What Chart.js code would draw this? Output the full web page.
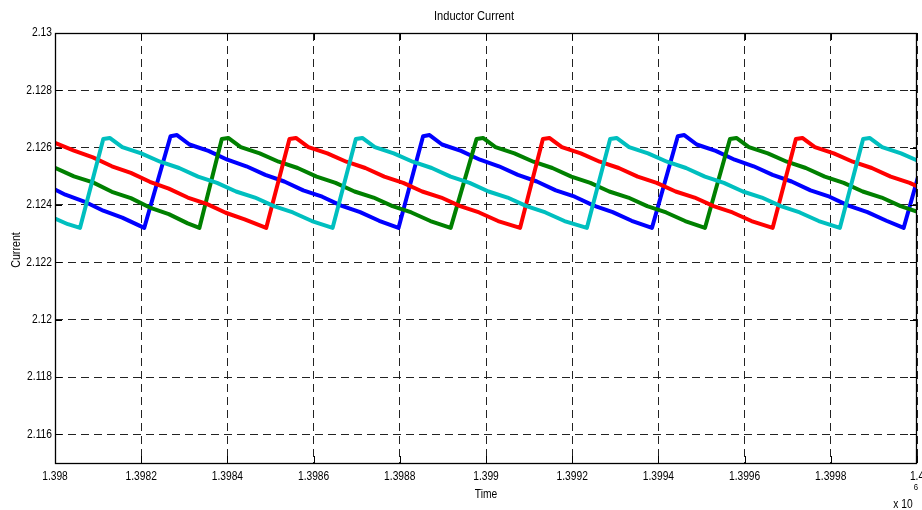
<!DOCTYPE html>
<html>
<head>
<meta charset="utf-8">
<script src="https://cdn.jsdelivr.net/npm/chart.js@4"></script>
<style>
html,body{margin:0;padding:0;background:#fff;}
#wrap{position:relative;width:922px;height:510px;}
</style>
</head>
<body>
<div id="wrap"><canvas id="c" width="922" height="510"></canvas></div>
<script>
// x values are Time (axis shows them scaled by 10^6), y values are Current
const xTicks = [1398000,1398200,1398400,1398600,1398800,1399000,1399200,1399400,1399600,1399800,1400000];
const yTicks = [2.116,2.118,2.12,2.122,2.124,2.126,2.128,2.13];

const blueTime = [1398000,1398024,1398068,1398112,1398156,1398207,
 1398268,1398283,1398312,1398356,1398400,1398444,1398488,1398532,1398576,1398620,1398664,1398708,1398752,1398797,
 1398854,1398869,1398898,1398942,1398986,1399030,1399074,1399118,1399162,1399206,1399250,1399294,1399338,1399385,
 1399445,1399460,1399489,1399533,1399577,1399621,1399665,1399709,1399753,1399797,1399841,1399885,1399929,1399969,
 1400029];
const blueValue = [2.12454,2.12436,2.12412,2.12380,2.12356,2.1232,
 2.1264,2.12644,2.12611,2.12589,2.12558,2.12535,2.12505,2.12482,2.12451,2.12429,2.12398,2.12375,2.12345,2.1232,
 2.1264,2.12644,2.12611,2.12589,2.12558,2.12535,2.12505,2.12482,2.12451,2.12429,2.12398,2.12375,2.12345,2.1232,
 2.1264,2.12644,2.12611,2.12589,2.12558,2.12535,2.12505,2.12482,2.12451,2.12429,2.12398,2.12375,2.12345,2.1232,
 2.1264];

const greenTime = [1398000,1398044,1398088,1398132,1398176,1398220,1398264,1398308,1398335,
 1398387,1398402,1398431,1398475,1398519,1398563,1398607,1398651,1398695,1398739,1398783,1398827,1398871,1398918,
 1398978,1398993,1399022,1399066,1399110,1399154,1399198,1399242,1399286,1399330,1399374,1399418,1399462,1399508,
 1399566,1399581,1399610,1399654,1399698,1399742,1399786,1399830,1399874,1399918,1399962,1400006];
const greenValue = [2.1253,2.12500,2.12479,2.12446,2.12424,2.12391,2.12368,2.12336,2.1232,
 2.1263,2.12634,2.12602,2.12580,2.12551,2.12529,2.12499,2.12477,2.12447,2.12426,2.12396,2.12374,2.12344,2.1232,
 2.1263,2.12634,2.12602,2.12580,2.12551,2.12529,2.12499,2.12477,2.12447,2.12426,2.12396,2.12374,2.12344,2.1232,
 2.1263,2.12634,2.12602,2.12580,2.12551,2.12529,2.12499,2.12477,2.12447,2.12426,2.12396,2.12374];

const redTime = [1398000,1398044,1398088,1398132,1398176,1398220,1398264,1398308,1398352,1398396,1398440,1398490,
 1398544,1398559,1398588,1398632,1398676,1398720,1398764,1398808,1398852,1398896,1398940,1398984,1399028,1399079,
 1399132,1399147,1399176,1399220,1399264,1399308,1399352,1399396,1399440,1399484,1399528,1399572,1399616,1399665,
 1399719,1399734,1399763,1399807,1399851,1399895,1399939,1399983,1400027];
const redValue = [2.12617,2.12590,2.12566,2.12535,2.12512,2.12481,2.12457,2.12426,2.12404,2.12373,2.12350,2.1232,
 2.1263,2.12634,2.12602,2.12580,2.12551,2.12529,2.12499,2.12477,2.12447,2.12426,2.12396,2.12374,2.12344,2.1232,
 2.1263,2.12634,2.12602,2.12580,2.12551,2.12529,2.12499,2.12477,2.12447,2.12426,2.12396,2.12374,2.12344,2.1232,
 2.1263,2.12634,2.12602,2.12580,2.12551,2.12529,2.12499,2.12477,2.12447];

const cyanTime = [1398000,1398030,1398058,
 1398112,1398127,1398156,1398200,1398244,1398288,1398332,1398376,1398420,1398464,1398508,1398552,1398596,1398644,
 1398698,1398713,1398742,1398786,1398830,1398874,1398918,1398962,1399006,1399050,1399094,1399138,1399182,1399234,
 1399288,1399303,1399332,1399376,1399420,1399464,1399508,1399552,1399596,1399640,1399684,1399728,1399772,1399821,
 1399875,1399890,1399919,1399963,1400007];
const cyanValue = [2.12353,2.12333,2.1232,
 2.1263,2.12634,2.12602,2.12580,2.12551,2.12529,2.12499,2.12477,2.12447,2.12426,2.12396,2.12374,2.12344,2.1232,
 2.1263,2.12634,2.12602,2.12580,2.12551,2.12529,2.12499,2.12477,2.12447,2.12426,2.12396,2.12374,2.12344,2.1232,
 2.1263,2.12634,2.12602,2.12580,2.12551,2.12529,2.12499,2.12477,2.12447,2.12426,2.12396,2.12374,2.12344,2.1232,
 2.1263,2.12634,2.12602,2.12580,2.12551];

const FONT = "'Liberation Sans',Arial,sans-serif";
const NARROW = 0.82;
const pts = (t, v) => t.map((x, i) => ({x: x, y: v[i]}));
function ds(label, t, v, color) {
  return {label, data: pts(t, v), borderColor: color, backgroundColor: color, borderWidth: 4,
    pointRadius: 0, tension: 0, fill: false, borderJoinStyle: 'round', borderCapStyle: 'round'};
}
const xLabel = v => String(Number((v / 1e6).toFixed(4)));
const yLabel = v => String(Number(v.toFixed(3)));

function narrowText(ctx, text, x, y, size, align) {
  ctx.save();
  ctx.translate(x, y);
  ctx.scale(NARROW, 1);
  ctx.font = size + 'px ' + FONT;
  ctx.textAlign = align;
  ctx.textBaseline = 'middle';
  ctx.fillText(text, 0, 0);
  ctx.restore();
}

const framePlugin = {
  id: 'frame',
  afterDraw(chart) {
    const ctx = chart.ctx, a = chart.chartArea;
    const xs = chart.scales.x, ys = chart.scales.y;
    ctx.save();
    ctx.strokeStyle = '#000';
    ctx.lineWidth = 1.3;
    ctx.setLineDash([]);
    ctx.strokeRect(a.left + 0.5, a.top + 0.5, a.right - a.left - 1, a.bottom - a.top);
    ctx.lineWidth = 1;
    ctx.beginPath();
    xTicks.forEach(v => {
      const px = Math.round(xs.getPixelForValue(v)) + 0.5;
      ctx.moveTo(px, a.bottom); ctx.lineTo(px, a.bottom - 7);
      ctx.moveTo(px, a.top); ctx.lineTo(px, a.top + 7);
    });
    yTicks.forEach(v => {
      const py = Math.round(ys.getPixelForValue(v)) + 0.5;
      ctx.moveTo(a.left, py); ctx.lineTo(a.left + 7, py);
      ctx.moveTo(a.right, py); ctx.lineTo(a.right - 7, py);
    });
    ctx.stroke();
    ctx.fillStyle = '#000';
    xTicks.forEach(v => narrowText(ctx, xLabel(v), xs.getPixelForValue(v), a.bottom + 14, 12.5, 'center'));
    yTicks.forEach(v => narrowText(ctx, yLabel(v), a.left - 3, ys.getPixelForValue(v), 12.5, 'right'));
    narrowText(ctx, 'Inductor Current', 474, 16, 13.5, 'center');
    narrowText(ctx, 'Time', 486, 495, 12.5, 'center');
    narrowText(ctx, 'x 10', 903, 505, 12.5, 'center');
    narrowText(ctx, '6', 916, 487, 9.5, 'center');
    ctx.save();
    ctx.translate(16, 250);
    ctx.rotate(-Math.PI / 2);
    narrowText(ctx, 'Current', 0, 0, 13, 'center');
    ctx.restore();
    ctx.restore();
  }
};

new Chart(document.getElementById('c'), {
  type: 'line',
  data: {
    datasets: [
      ds('cyan', cyanTime, cyanValue, '#00BFBF'),
      ds('red', redTime, redValue, '#FF0000'),
      ds('green', greenTime, greenValue, '#008000'),
      ds('blue', blueTime, blueValue, '#0000FF')
    ]
  },
  options: {
    responsive: false,
    animation: false,
    layout: {padding: {top: 33, right: 5, left: 0, bottom: 0}},
    plugins: {legend: {display: false}, tooltip: {enabled: false}, title: {display: false}},
    scales: {
      x: {
        type: 'linear', min: 1398000, max: 1400000,
        afterBuildTicks: s => { s.ticks = xTicks.map(v => ({value: v})); },
        afterFit: s => { s.height = 47; s.paddingLeft = 0; s.paddingRight = 0; },
        ticks: {display: false, autoSkip: false, maxRotation: 0, callback: xLabel},
        grid: {color: '#222', lineWidth: 1, drawTicks: false},
        border: {display: false, dash: [8, 5]}
      },
      y: {
        type: 'linear', min: 2.115, max: 2.13,
        afterBuildTicks: s => { s.ticks = yTicks.map(v => ({value: v})); },
        afterFit: s => { s.width = 55; s.paddingTop = 0; s.paddingBottom = 0; },
        ticks: {display: false, autoSkip: false, callback: yLabel},
        grid: {color: '#222', lineWidth: 1, drawTicks: false},
        border: {display: false, dash: [8, 5]}
      }
    }
  },
  plugins: [framePlugin]
});
</script>
</body>
</html>
